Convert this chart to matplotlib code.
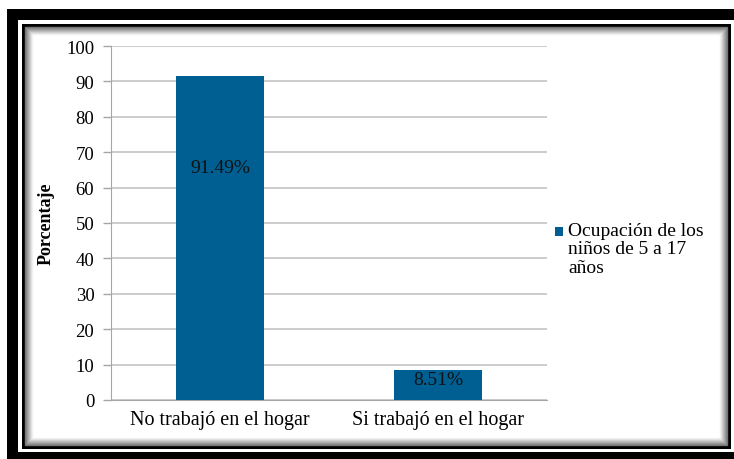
import matplotlib.pyplot as plt
from matplotlib.patches import Rectangle

# datos
categorias = ['No trabajó en el hogar', 'Si trabajó en el hogar']
valores = [91.49, 8.51]
etiquetas = ['91.49%', '8.51%']
pos_etiquetas = [65.8, 5.9]
serie = 'Ocupación de los\nniños de 5 a 17\naños'
yticks = [0, 10, 20, 30, 40, 50, 60, 70, 80, 90, 100]

plt.rcParams['font.family'] = 'serif'
plt.rcParams['font.serif'] = ['Liberation Serif', 'DejaVu Serif']

W, H = 734, 460
fig = plt.figure(figsize=(W / 100, H / 100), dpi=100)


def caja(x0, y0, x1, y1, **kw):
    # coordenadas en pixeles (origen arriba a la izquierda)
    r = Rectangle((x0 / W, 1 - y1 / H), (x1 - x0) / W, (y1 - y0) / H,
                  transform=fig.transFigure, zorder=-10, **kw)
    fig.add_artist(r)


# marco
caja(7, 10, 800, 500, facecolor='black', edgecolor='none')
caja(18, 21, 790, 453, facecolor='white', edgecolor='none')
caja(22, 25, 731, 450, facecolor='black', edgecolor='none')
caja(25, 28, 727, 446, facecolor='white', edgecolor='none')
for i in range(8):
    g = 0.45 + 0.07 * i
    caja(25 + i, 28 + i, 727 - i, 446 - i, facecolor='none',
         edgecolor=(g, g, g), linewidth=1.0)

ax = fig.add_axes([111 / W, 1 - 401 / H, (547 - 111) / W, (401 - 47) / H])
ax.set_facecolor('none')

x = range(len(categorias))
ax.bar(x, valores, width=0.4, color='#005F92', zorder=3)
for xi, t, p in zip(x, etiquetas, pos_etiquetas):
    ax.text(xi, p, t, ha='center', va='center', fontsize=14, color='#111111', zorder=4)

ax.set_xlim(-0.5, 1.5)
ax.set_ylim(0, 100)
ax.set_yticks(yticks)
ax.set_xticks(list(x))
ax.set_xticklabels(categorias, fontsize=14.5)
ax.tick_params(axis='y', labelsize=13.5, length=6, color='#A6A6A6', width=1, pad=6)
ax.tick_params(axis='x', length=0, pad=7)
ax.yaxis.grid(True, color='#C4C4C4', linewidth=1.2, zorder=0)
ax.set_axisbelow(True)
for s in ['top', 'right']:
    ax.spines[s].set_visible(False)
ax.spines['left'].set_color('#A6A6A6')
ax.spines['bottom'].set_color('#A6A6A6')
ax.set_ylabel('Porcentaje', fontsize=13, fontweight='bold', labelpad=8)

# leyenda
caja(555, 228, 563, 237, facecolor='#005F92', edgecolor='none')
fig.text(568 / W, 1 - 223 / H, serie, fontsize=14, va='top', ha='left',
         linespacing=1.1)

fig.savefig('out.png', dpi=100)
